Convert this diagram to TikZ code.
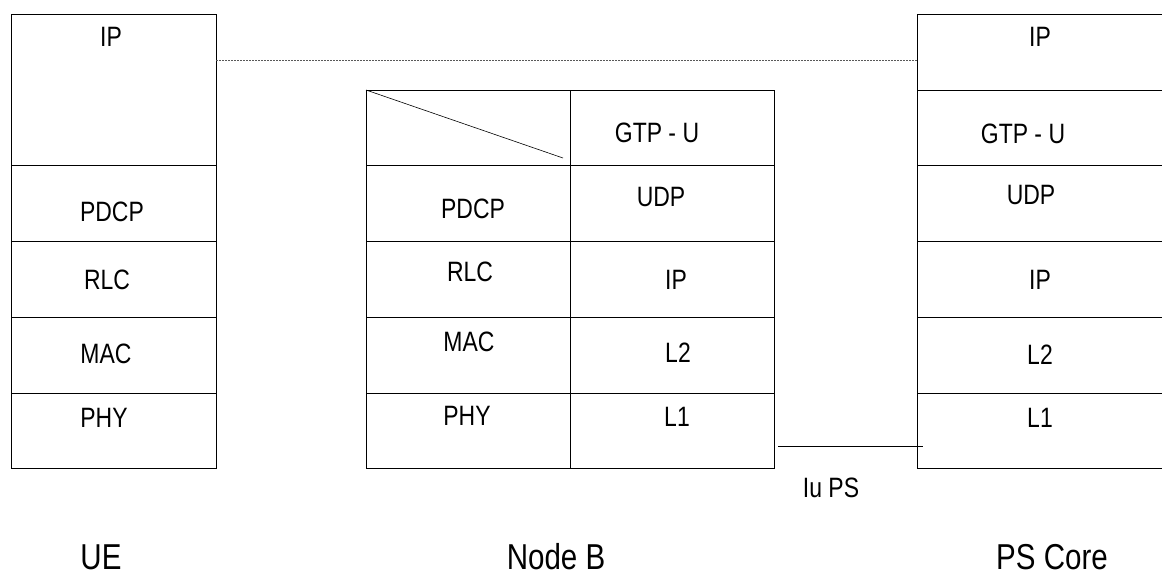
\documentclass[tikz,border=0pt]{standalone}
\usepackage{fontspec}
\setmainfont{Liberation Sans}[FakeStretch=0.82]
\usetikzlibrary{positioning}

\begin{document}
\begin{tikzpicture}
    [x=1pt, y=-1pt,
    layer/.style={draw=black, line width=0.9pt},
    tag/.style={font=\fontsize{28}{30}\selectfont, inner sep=0pt},
    entity/.style={font=\fontsize{36}{40}\selectfont, inner sep=0pt}]

    \path[use as bounding box, clip] (0,0) rectangle (1162,576);

    %Stacks
    \draw[layer] (11,14) rectangle (216,468);
    \draw[layer] (366,90) rectangle (570,468);
    \draw[layer] (570,90) rectangle (774,468);
    \draw[layer] (1170,14) -- (917,14) -- (917,468) -- (1170,468);
    \foreach \y in {165,241,317,393}{
        \draw[layer] (11,\y) -- (216,\y);
        \draw[layer] (366,\y) -- (774,\y);
        \draw[layer] (917,\y) -- (1170,\y);
    }
    \draw[layer] (917,90) -- (1170,90);
    \draw[line width=0.6pt] (366,90) -- (563,158);

    %Coordinates
    \coordinate (ueEdge) at (216,60);
    \coordinate (coreEdge) at (917,60);
    \coordinate (iuStart) at (778,446);
    \coordinate (iuEnd) at (923,446);

    %Nodes
    \node[tag](ueIP) at (111,37){IP};
    \node[tag](uePDCP) at (112,212){PDCP};
    \node[tag](ueRLC) at (107,280){RLC};
    \node[tag](ueMAC) at (106,354){MAC};
    \node[tag](uePHY) at (104,418){PHY};

    \node[tag](nbPDCP) at (473,209){PDCP};
    \node[tag](nbRLC) at (470,272){RLC};
    \node[tag](nbMAC) at (469,342){MAC};
    \node[tag](nbPHY) at (467,416){PHY};
    \node[tag](nbGTP) at (657,133){GTP - U};
    \node[tag](nbUDP) at (661,197){UDP};
    \node[tag](nbIP) at (676,280){IP};
    \node[tag](nbL2) at (678,353){L2};
    \node[tag](nbL1) at (677,417){L1};

    \node[tag](coreIP) at (1040,37){IP};
    \node[tag](coreGTP) at (1023,134){GTP - U};
    \node[tag](coreUDP) at (1031,195){UDP};
    \node[tag](coreIP2) at (1040,280){IP};
    \node[tag](coreL2) at (1040,355){L2};
    \node[tag](coreL1) at (1040,418){L1};

    \node[tag](iu) at (831,488){Iu PS};

    \node[entity](UE) at (101,557){UE};
    \node[entity](NB) at (556,557){Node B};
    \node[entity](PS) at (1052,557){PS Core};

    %Lines
    \draw[gray!70!black, line width=0.8pt, dash pattern=on 2pt off 1pt](ueEdge)--(coreEdge);
    \draw[line width=0.9pt](iuStart)--(iuEnd);
\end{tikzpicture}
\end{document}
